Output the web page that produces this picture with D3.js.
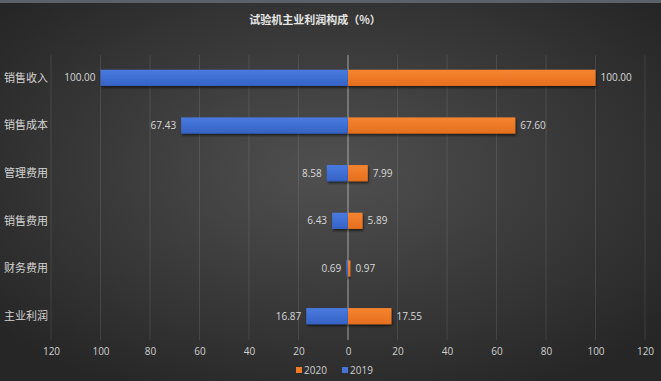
<!DOCTYPE html>
<html><head><meta charset="utf-8">
<script src="https://cdn.jsdelivr.net/npm/d3@7"></script>
<style>html,body{margin:0;padding:0;background:#2a2a2a;}svg{display:block;}</style>
</head><body>
<svg id="c" width="661" height="381"></svg>
<script>
const categories = ["销售收入","销售成本","管理费用","销售费用","财务费用","主业利润"];
const values2020 = [100.00, 67.60, 7.99, 5.89, 0.97, 17.55];
const values2019 = [100.00, 67.43, 8.58, 6.43, 0.69, 16.87];
const tickValues = [-120,-100,-80,-60,-40,-20,0,20,40,60,80,100,120];
const seriesNames = ["2020","2019"];
const title = "试验机主业利润构成（%）";

const W = 661, H = 381;
const svg = d3.select("#c");
const defs = svg.append("defs");
const rg = defs.append("radialGradient").attr("id","bg").attr("cx","50%").attr("cy","45%").attr("r","65%");
rg.append("stop").attr("offset","0%").attr("stop-color","#505050");
rg.append("stop").attr("offset","100%").attr("stop-color","#262626");
const gB = defs.append("linearGradient").attr("id","gb").attr("x1",0).attr("y1",0).attr("x2",0).attr("y2",1);
gB.append("stop").attr("offset","0%").attr("stop-color","#4a7ae0");
gB.append("stop").attr("offset","100%").attr("stop-color","#3563c4");
const gO = defs.append("linearGradient").attr("id","go").attr("x1",0).attr("y1",0).attr("x2",0).attr("y2",1);
gO.append("stop").attr("offset","0%").attr("stop-color","#f6842f");
gO.append("stop").attr("offset","100%").attr("stop-color","#e56f1e");
const sh = defs.append("filter").attr("id","sh").attr("x","-10%").attr("y","-20%").attr("width","130%").attr("height","160%");
sh.append("feDropShadow").attr("dx",1).attr("dy",2).attr("stdDeviation",1).attr("flood-color","#000").attr("flood-opacity",0.55);

svg.append("rect").attr("width",W).attr("height",H).attr("fill","url(#bg)");
svg.append("rect").attr("width",W).attr("height",3).attr("fill","#5b6169");

const font = "'Noto Sans CJK SC','Noto Sans',sans-serif";
svg.append("text").attr("x",315).attr("y",24).attr("text-anchor","middle")
  .attr("fill","#e6e6e6").attr("font-size",11).attr("font-weight","bold").attr("font-family",font).text(title);

const x = d3.scaleLinear().domain([-120,120]).range([51,645]);
const y = d3.scaleBand().domain(categories).range([54,340]).paddingInner(0.66).paddingOuter(0.33);

// grid
svg.append("g").selectAll("line").data(tickValues).join("line")
  .attr("x1",d=>x(d)).attr("x2",d=>x(d)).attr("y1",55).attr("y2",340)
  .attr("stroke",d=>d===0?"rgba(200,200,200,0.75)":"rgba(255,255,255,0.10)").attr("stroke-width",1);

// bars
const g = svg.append("g");
g.selectAll(".b19").data(categories).join("rect")
  .attr("x",(d,i)=>x(-values2019[i])).attr("y",d=>y(d)).attr("width",(d,i)=>x(0)-x(-values2019[i]))
  .attr("height",y.bandwidth()).attr("fill","url(#gb)").attr("filter","url(#sh)");
g.selectAll(".b20").data(categories).join("rect")
  .attr("x",x(0)).attr("y",d=>y(d)).attr("width",(d,i)=>x(values2020[i])-x(0))
  .attr("height",y.bandwidth()).attr("fill","url(#go)").attr("filter","url(#sh)");

// value labels
const lbl = svg.append("g").attr("font-family","'Open Sans','DejaVu Sans',sans-serif").attr("font-size",10).attr("fill","#d9d9d9");
lbl.selectAll(".l19").data(categories).join("text")
  .attr("x",(d,i)=>x(-values2019[i])-5).attr("y",d=>y(d)+y.bandwidth()/2).attr("dy","0.35em")
  .attr("text-anchor","end").text((d,i)=>values2019[i].toFixed(2));
lbl.selectAll(".l20").data(categories).join("text")
  .attr("x",(d,i)=>x(values2020[i])+5).attr("y",d=>y(d)+y.bandwidth()/2).attr("dy","0.35em")
  .attr("text-anchor","start").text((d,i)=>values2020[i].toFixed(2));

// category labels
svg.append("g").selectAll("text").data(categories).join("text")
  .attr("x",4).attr("y",d=>y(d)+y.bandwidth()/2).attr("dy","0.35em")
  .attr("fill","#d4d4d4").attr("font-size",11).attr("font-family",font).text(d=>d);

// x axis
const ax = svg.append("g").attr("transform","translate(0,340)")
  .call(d3.axisBottom(x).tickValues(tickValues).tickFormat(d=>Math.abs(d)).tickSize(0).tickPadding(8));
ax.select(".domain").remove();
ax.selectAll("text").attr("fill","#cfcfcf").attr("font-size",10).attr("font-family","'Open Sans','DejaVu Sans',sans-serif");

// legend
const leg = svg.append("g").attr("font-family","'Open Sans','DejaVu Sans',sans-serif").attr("font-size",10).attr("fill","#cfcfcf");
const legItems = [{n:seriesNames[0],c:"#ef7a28",x:296},{n:seriesNames[1],c:"#4472d6",x:342}];
legItems.forEach(it=>{
  leg.append("rect").attr("x",it.x).attr("y",367).attr("width",6).attr("height",6).attr("fill",it.c);
  leg.append("text").attr("x",it.x+8).attr("y",370).attr("dy","0.35em").text(it.n);
});
</script>
</body></html>
